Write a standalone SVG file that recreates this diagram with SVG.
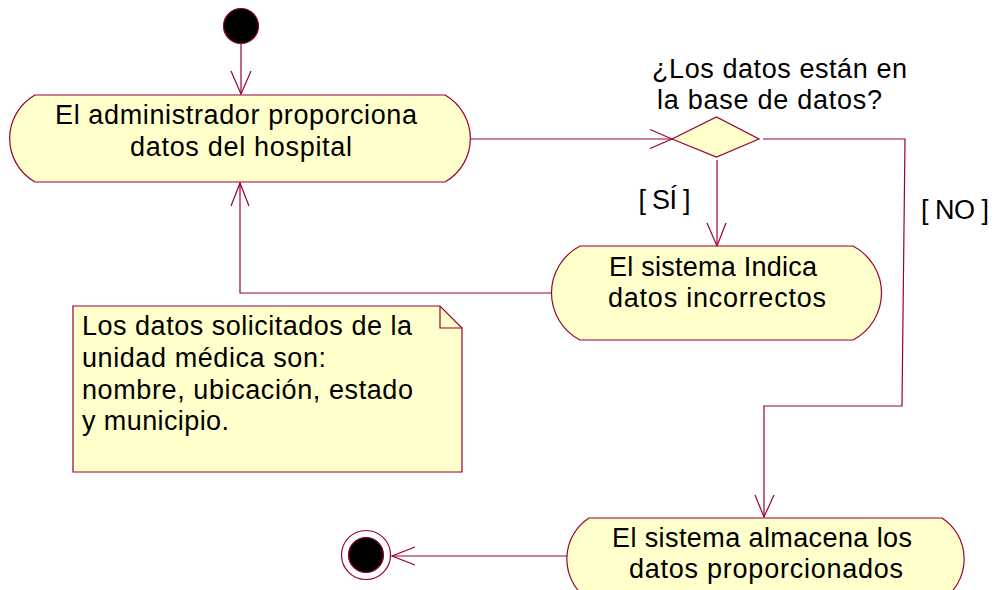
<svg xmlns="http://www.w3.org/2000/svg" width="995" height="590" viewBox="0 0 995 590">
  <style>
    .shape { fill: #FFFFCC; stroke: #990033; stroke-width: 1.2; }
    .edge { fill: none; stroke: #990033; stroke-width: 1.2; }
    .txt { font-family: "Liberation Sans", Arial, sans-serif; font-size: 27px; fill: #000; }
    .mid { text-anchor: middle; }
  </style>
  <rect x="0" y="0" width="995" height="590" fill="#FFFFFF"/>

  <g id="connectors">
    <!-- start -> activity 1 -->
    <path class="edge" d="M241,43 V94"/>
    <path class="edge" d="M231,71 L241,94 L251,71"/>
    <!-- activity 1 -> decision -->
    <path class="edge" d="M447,139 H672"/>
    <path class="edge" d="M650,129.5 L672,139 L650,148.5"/>
    <!-- decision -> activity 2 [SÍ] -->
    <path class="edge" d="M717,160 V246"/>
    <path class="edge" d="M707,223 L717,246 L726,223"/>
    <!-- activity 2 -> activity 1 -->
    <path class="edge" d="M556,293 H240 V183"/>
    <path class="edge" d="M231,206 L240,183 L249,206"/>
    <!-- decision -> activity 3 [NO] -->
    <path class="edge" d="M763,139 H905 L902,406 H764 V517"/>
    <path class="edge" d="M755,495 L764,517 L774,495"/>
    <!-- activity 3 -> end -->
    <path class="edge" d="M587,556 H392"/>
    <path class="edge" d="M415,547 L392,556 L415,565"/>
  </g>

  <g id="start">
    <circle cx="241" cy="26" r="17.5" fill="#000000" stroke="#990033" stroke-width="1.2"/>
  </g>

  <g id="act1">
    <path class="shape" d="M35,95 H445 A50,50 0 0 1 445,182 H35 A50,50 0 0 1 35,95 Z"/>
    <text class="txt mid" x="236" y="124" textLength="362" lengthAdjust="spacing">El administrador proporciona</text>
    <text class="txt mid" x="241" y="156" textLength="222" lengthAdjust="spacing">datos del hospital</text>
  </g>

  <g id="decision">
    <polygon class="shape" points="672,139 716.5,117 759,139 716.5,157"/>
    <text class="txt mid" x="779.5" y="78" textLength="255" lengthAdjust="spacing">¿Los datos están en</text>
    <text class="txt mid" x="769.5" y="109" textLength="225" lengthAdjust="spacing">la base de datos?</text>
  </g>

  <g id="label-si">
    <text class="txt mid" x="664.5" y="209" textLength="52" lengthAdjust="spacing">[ SÍ ]</text>
  </g>
  <g id="label-no">
    <text class="txt mid" x="955" y="219" textLength="68" lengthAdjust="spacing">[ NO ]</text>
  </g>

  <g id="act2">
    <path class="shape" d="M580,246 H853 A53,53 0 0 1 853,340 H580 A53,53 0 0 1 580,246 Z"/>
    <text class="txt mid" x="713" y="276" textLength="208" lengthAdjust="spacing">El sistema Indica</text>
    <text class="txt mid" x="717" y="307" textLength="218" lengthAdjust="spacing">datos incorrectos</text>
  </g>

  <g id="note">
    <path class="shape" d="M73,306 H440 L462,328 V472 H73 Z"/>
    <path class="edge" d="M440,306 V328 H462"/>
    <text class="txt" x="82" y="335" textLength="330" lengthAdjust="spacing">Los datos solicitados de la</text>
    <text class="txt" x="82" y="367" textLength="244" lengthAdjust="spacing">unidad médica son:</text>
    <text class="txt" x="82" y="399" textLength="331" lengthAdjust="spacing">nombre, ubicación, estado</text>
    <text class="txt" x="82" y="430" textLength="147" lengthAdjust="spacing">y municipio.</text>
  </g>

  <g id="act3">
    <path class="shape" d="M589,518 H942 A49,49 0 0 1 942,600 H589 A49,49 0 0 1 589,518 Z"/>
    <text class="txt mid" x="762" y="547" textLength="300" lengthAdjust="spacing">El sistema almacena los</text>
    <text class="txt mid" x="766" y="578" textLength="274" lengthAdjust="spacing">datos proporcionados</text>
  </g>

  <g id="end">
    <circle cx="366" cy="555" r="24.5" fill="#FFFFFF" stroke="#990033" stroke-width="1.2"/>
    <circle cx="366" cy="555" r="17.5" fill="#000000" stroke="#990033" stroke-width="1.2"/>
  </g>
</svg>
